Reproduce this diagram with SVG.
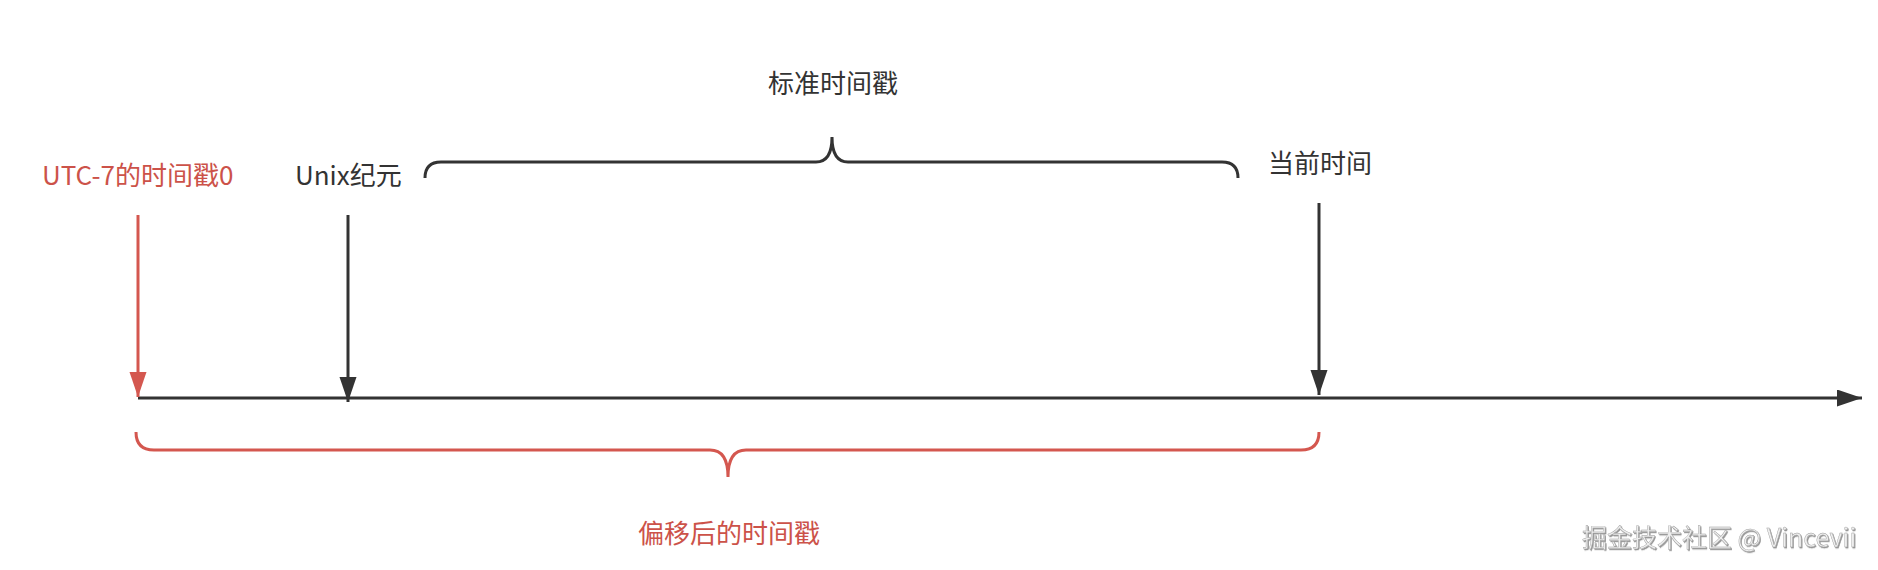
<svg xmlns="http://www.w3.org/2000/svg" width="1878" height="570" viewBox="0 0 1878 570">
  <style>
    .lbl { font-family: "Noto Sans CJK SC", "Liberation Sans", sans-serif; font-size: 26px; }
    .dark { fill: #333333; }
    .red { fill: #cc5249; }
    .ln { fill: none; stroke-width: 3; }
    .k { stroke: #333333; }
    .r { stroke: #d4574f; }
    .wm { font-family: "Noto Sans CJK SC", "Liberation Sans", sans-serif; font-size: 25px; fill: #eeeeee; stroke: #9a9a9a; stroke-width: 0.4; }
  </style>
  <defs>
    <marker id="ak" markerUnits="userSpaceOnUse" markerWidth="26" markerHeight="18" refX="25" refY="8.5" orient="auto">
      <path d="M0,0 L25,8.5 L0,17 z" fill="#333333"/>
    </marker>
    <marker id="ar" markerUnits="userSpaceOnUse" markerWidth="26" markerHeight="18" refX="25" refY="8.5" orient="auto">
      <path d="M0,0 L25,8.5 L0,17 z" fill="#d4574f"/>
    </marker>
    <filter id="sh" x="-5%" y="-20%" width="110%" height="140%">
      <feDropShadow dx="1" dy="1.2" stdDeviation="0.5" flood-color="#666666" flood-opacity="0.7"/>
    </filter>
  </defs>
  <rect width="1878" height="570" fill="#ffffff"/>

  <g id="connectors">
    <line id="axis" class="ln k" x1="138" y1="398" x2="1862" y2="398" marker-end="url(#ak)"/>
    <line id="arrow-utc7" class="ln r" x1="138" y1="215" x2="138" y2="397" marker-end="url(#ar)"/>
    <line id="arrow-unix" class="ln k" x1="348" y1="215" x2="348" y2="402" marker-end="url(#ak)"/>
    <line id="arrow-now" class="ln k" x1="1319" y1="203" x2="1319" y2="395" marker-end="url(#ak)"/>
    <path id="brace-standard" class="ln k" d="M425,178 Q425,162 441,162 L816,162 Q832,162 832,137 Q832,162 848,162 L1222,162 Q1238,162 1238,178"/>
    <path id="brace-offset" class="ln r" d="M136,432 Q136,450 154,450 L710,450 Q728,450 728,477 Q728,450 746,450 L1301,450 Q1319,450 1319,432"/>
  </g>

  <g id="node-utc7">
    <text class="lbl red" x="42" y="185">UTC-7的时间戳0</text>
  </g>
  <g id="node-unix">
    <text class="lbl dark" x="295" y="185">Unix纪元</text>
  </g>
  <g id="node-standard">
    <text class="lbl dark" x="768" y="93">标准时间戳</text>
  </g>
  <g id="node-now">
    <text class="lbl dark" x="1268" y="173">当前时间</text>
  </g>
  <g id="node-offset">
    <text class="lbl red" x="638" y="543">偏移后的时间戳</text>
  </g>
  <g id="watermark">
    <text class="wm" x="1582" y="547" filter="url(#sh)">掘金技术社区 @ Vincevii</text>
  </g>
</svg>
